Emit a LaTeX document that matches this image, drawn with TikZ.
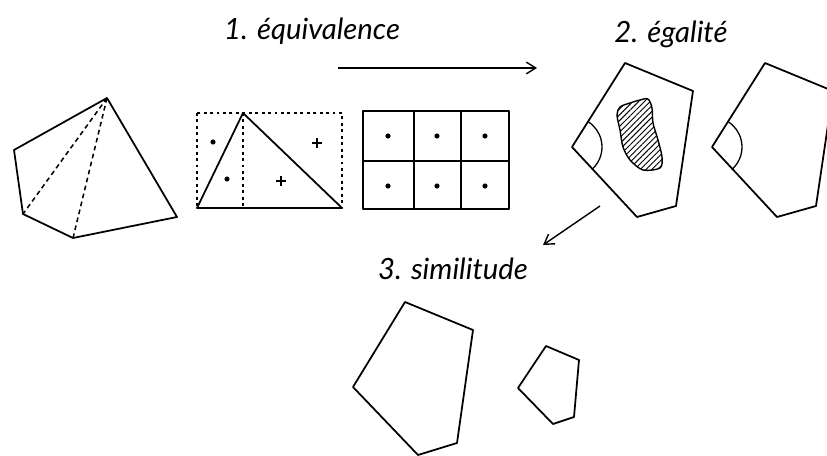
\documentclass[tikz,border=0pt]{standalone}
\usepackage{fontspec}
\newfontfamily\handfont{Lato}
\usetikzlibrary{arrows.meta,patterns.meta,angles}

\begin{document}
\begin{tikzpicture}[x=0.03cm,y=-0.03cm,line width=1.5pt,line join=round,
  every node/.style={font=\handfont\itshape\fontsize{25}{30}\selectfont,anchor=base},
  >={Straight Barb[length=8pt,width=10pt]},
  dotbox/.style={line width=1.2pt,dash pattern=on 2.5pt off 3pt},
  arc/.style={draw,line width=1.1pt,angle radius=0.9cm}]
  \useasboundingbox (0,0) rectangle (827,456);
  % titles
  \node (t1) at (312,40) {1. équivalence};
  \node (t2) at (671,43) {2. égalité};
  \node (t3) at (453,280) {3. similitude};
  % arrows
  \coordinate (a1) at (338,68); \coordinate (b1) at (537,68);
  \coordinate (a2) at (600,206); \coordinate (b2) at (543,245);
  \draw[->,line width=1.2pt] (a1)--(b1); \draw[->,line width=1.2pt] (a2)--(b2);
  % 1. pentagon cut in triangles
  \draw (107,98) coordinate (p) -- (177,217) -- (73,238) coordinate (m) -- (23,214) coordinate (l) -- (14,150) -- cycle;
  \draw[line width=1.3pt,dash pattern=on 4pt off 3pt] (p)--(l) (p)--(m);
  % triangle in dotted rectangle
  \draw[dotbox] (197,113) rectangle (342,208) (243,113)--(243,208);
  \draw (197,208)--(243,113)--(342,208)--cycle;
  \foreach \x/\y in {213/142,227/179} \fill (\x,\y) circle[radius=2.2pt];
  \foreach \x/\y in {317/143,281/181} \draw[line width=1.2pt] (\x-5,\y)--(\x+5,\y) (\x,\y-5)--(\x,\y+5);
  % grid of squares
  \draw (363,111) rectangle (509,209) (363,161)--(509,161) (414,111)--(414,209) (461,111)--(461,209);
  \foreach \x in {388,437,485}{\foreach \y in {136,186} \fill (\x,\y) circle[radius=2.2pt];}
  % 2. equal pentagons
  \begin{scope}
    \clip (0,0) rectangle (827,456);
    \foreach \s in {0,140}{
      \begin{scope}[shift={(\s,0)}]
        \draw (625,63) coordinate (q1) -- (693,91) -- (676,206) -- (637,217) coordinate (q4) -- (572,147) coordinate (q5) -- cycle;
        \pic[arc] {angle=q4--q5--q1};
      \end{scope}}
  \end{scope}
  \draw[line width=1.2pt,pattern={Lines[angle=45,distance=3.5pt,line width=0.8pt]}] plot[smooth cycle] coordinates {(620,107) (630,103) (640,100) (648,99) (652,108) (653,123) (658,140) (662,157) (660,168) (643,170) (630,160) (623,147) (620,130) (617,115)};
  % 3. similar pentagons
  \draw (405,302) -- (473,330) -- (457,443) -- (418,455) -- (353,387) -- cycle;
  \draw (546,346) -- (579,360) -- (574,417) -- (553,424) -- (518,388) -- cycle;
\end{tikzpicture}
\end{document}
